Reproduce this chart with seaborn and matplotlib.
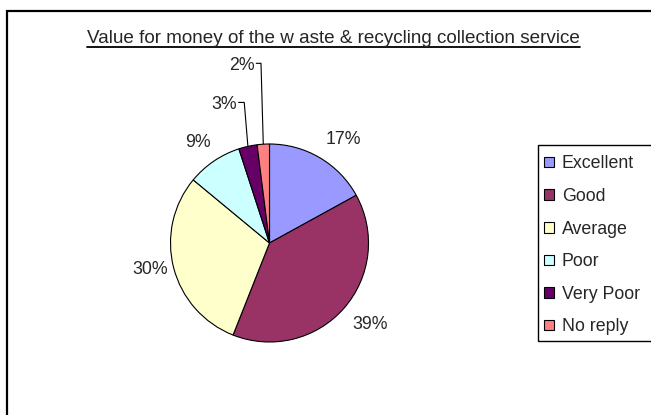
import matplotlib
matplotlib.use("Agg")
import matplotlib.pyplot as plt
import seaborn as sns
import numpy as np
from matplotlib.patches import Rectangle
from matplotlib.lines import Line2D

# ---- data ----
categories = ["Excellent", "Good", "Average", "Poor", "Very Poor", "No reply"]
values = [17, 39, 30, 9, 3, 2]
colors = ["#9999FF", "#993366", "#FFFFCC", "#CCFFFF", "#660066", "#FF8080"]
title = "Value for money of the w aste & recycling collection service"

# ---- style ----
sns.set_theme(style="white")
plt.rcParams['font.family'] = ['Liberation Sans', 'DejaVu Sans']

W, H, DPI = 651, 415, 100
FS = 12.8
fig = plt.figure(figsize=(W / DPI, H / DPI), dpi=DPI)
fig.patch.set_facecolor('white')

# pie geometry in pixels
R = 99.0
cx, cy = 269.5, 243.0
ax_l, ax_r, ax_t, ax_b = 60, 490, 40, 412
ax = fig.add_axes([ax_l / W, (H - ax_b) / H, (ax_r - ax_l) / W, (ax_b - ax_t) / H])
wedges, _ = ax.pie(values, colors=colors, startangle=90, counterclock=False, radius=1,
                   wedgeprops=dict(edgecolor='black', linewidth=0.8))
ax.set_xlim((ax_l - cx) / R, (ax_r - cx) / R)
ax.set_ylim((cy - ax_b) / R, (cy - ax_t) / R)
ax.set_aspect('equal')
ax.axis('off')

# callout label layout: (text right x, y, corner x) in radius units
callouts = {"Very Poor": (-0.331, 1.42, -0.255), "No reply": (-0.153, 1.815, -0.086)}

for w, cat, v in zip(wedges, categories, values):
    theta = np.deg2rad((w.theta1 + w.theta2) / 2)
    c, s = np.cos(theta), np.sin(theta)
    txt = f"{v}%"
    if cat in callouts:
        tx, ty, kx = callouts[cat]
        ax.text(tx, ty, txt, ha='right', va='center_baseline', fontsize=FS)
        ax.plot([tx + 0.015, kx, c], [ty, ty, s], color='black', lw=0.8,
                clip_on=False, solid_capstyle='butt')
    else:
        ha = 'left' if c > 0 else 'right'
        if s > 0.5:
            va, d = 'bottom', 1.12
        elif s < -0.5:
            va, d = 'top', 1.12
        else:
            va, d = 'center', 1.06
        ax.text(d * c + (0.04 if c < 0 and s > 0.5 else 0), d * s, txt,
                ha=ha, va=va, fontsize=FS)

# title with underline
t = fig.text(333.5 / W, 1 - 42.7 / H, title, ha='center', va='baseline', fontsize=13.6)

# legend (frame drawn separately)
leg = fig.legend(wedges, categories, loc='upper left',
                 bbox_to_anchor=(538 / W, (H - 341) / H, 125 / W, (341 - 149) / H),
                 bbox_transform=fig.transFigure, borderaxespad=0,
                 fontsize=FS, frameon=False, borderpad=0.35, labelspacing=0.88,
                 handlelength=0.54, handleheight=0.54, handletextpad=0.45)
fig.add_artist(Rectangle((538 / W, (H - 341) / H), 130 / W, 196 / H,
                         transform=fig.transFigure, fill=False, edgecolor='black', lw=1.0))

# outer chart frame
fig.add_artist(Rectangle((7 / W, -0.2), 1.0, 1.2 - 11 / H, transform=fig.transFigure,
                         fill=False, edgecolor='black', lw=1.6))

fig.canvas.draw()
bb = t.get_window_extent()
fig.add_artist(Line2D([bb.x0 / W, bb.x1 / W], [1 - 47 / H, 1 - 47 / H],
                      transform=fig.transFigure, color='black', lw=1.3))

fig.savefig('out.png', dpi=DPI)
